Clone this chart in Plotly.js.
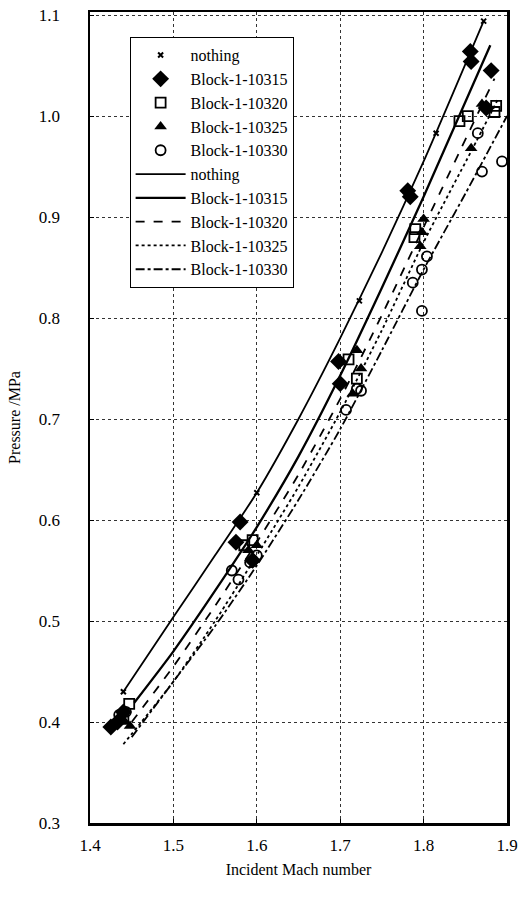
<!DOCTYPE html>
<html>
<head>
<meta charset="utf-8">
<script src="https://cdn.plot.ly/plotly-3.0.1.min.js"></script>
<style>html,body{margin:0;padding:0;background:#fff;}#chart{width:519px;height:898px;}</style>
</head>
<body>
<div id="chart"></div>
<script>
// ---- measured points ----
const nothingX = [1.44, 1.60, 1.723, 1.815, 1.872];
const nothingY = [0.43, 0.627, 0.817, 0.983, 1.094];

const b10315X = [1.425, 1.433, 1.44, 1.58, 1.575, 1.595, 1.698, 1.70, 1.781, 1.784, 1.856, 1.857, 1.881, 1.875];
const b10315Y = [0.395, 0.40, 0.41, 0.598, 0.578, 0.56, 0.757, 0.735, 0.926, 0.92, 1.064, 1.054, 1.045, 1.008];

const b10320X = [1.447, 1.44, 1.585, 1.595, 1.71, 1.72, 1.79, 1.789, 1.843, 1.853, 1.885, 1.887];
const b10320Y = [0.418, 0.405, 0.575, 0.58, 0.759, 0.74, 0.888, 0.88, 0.995, 1.0, 1.004, 1.01];

const b10325X = [1.448, 1.442, 1.59, 1.60, 1.72, 1.725, 1.715, 1.80, 1.798, 1.796, 1.857, 1.87];
const b10325Y = [0.396, 0.40, 0.57, 0.575, 0.768, 0.75, 0.725, 0.898, 0.885, 0.871, 0.968, 1.012];

const b10330X = [1.435, 1.443, 1.578, 1.57, 1.60, 1.592, 1.707, 1.72, 1.725, 1.787, 1.798, 1.804, 1.798, 1.865, 1.87, 1.894];
const b10330Y = [0.407, 0.41, 0.541, 0.55, 0.565, 0.558, 0.709, 0.73, 0.728, 0.835, 0.848, 0.861, 0.807, 0.983, 0.945, 0.955];

// ---- fitted curves ----
const fitNothingX = [1.44, 1.50, 1.55, 1.60, 1.65, 1.70, 1.75, 1.80, 1.872];
const fitNothingY = [0.43, 0.504, 0.565, 0.627, 0.70, 0.78, 0.865, 0.955, 1.094];

const fit10315X = [1.453, 1.50, 1.55, 1.60, 1.65, 1.70, 1.75, 1.80, 1.88];
const fit10315Y = [0.419, 0.47, 0.53, 0.593, 0.663, 0.743, 0.83, 0.92, 1.07];

const fit10320X = [1.45, 1.50, 1.55, 1.60, 1.65, 1.70, 1.75, 1.80, 1.885];
const fit10320Y = [0.40, 0.455, 0.515, 0.578, 0.645, 0.72, 0.803, 0.89, 1.037];

const fit10325X = [1.44, 1.50, 1.55, 1.60, 1.65, 1.70, 1.75, 1.80, 1.857, 1.89];
const fit10325Y = [0.378, 0.44, 0.50, 0.565, 0.633, 0.707, 0.788, 0.875, 0.965, 1.018];

const fit10330X = [1.45, 1.50, 1.55, 1.60, 1.65, 1.70, 1.75, 1.80, 1.85, 1.90];
const fit10330Y = [0.385, 0.44, 0.495, 0.555, 0.62, 0.69, 0.768, 0.848, 0.923, 1.0];

const names = ['nothing', 'Block-1-10315', 'Block-1-10320', 'Block-1-10325', 'Block-1-10330'];
const xTicks = [1.4, 1.5, 1.6, 1.7, 1.8, 1.9];
const yTicks = [0.3, 0.4, 0.5, 0.6, 0.7, 0.8, 0.9, 1.0, 1.1];

const mk = (x, y, name, symbol, size, lw) => ({
  x, y, name, type: 'scatter', mode: 'markers',
  marker: {symbol, size, color: 'black', line: {color: 'black', width: lw}}
});
const ln = (x, y, name, dash, w) => ({
  x, y, name, type: 'scatter', mode: 'lines',
  line: {color: 'black', width: w, dash, shape: 'spline', smoothing: 0.6}
});

const traces = [
  mk(nothingX, nothingY, names[0], 'x-thin', 5, 2),
  mk(b10315X, b10315Y, names[1], 'diamond', 13, 0),
  mk(b10320X, b10320Y, names[2], 'square-open', 10, 1.8),
  mk(b10325X, b10325Y, names[3], 'triangle-up', 11, 0),
  mk(b10330X, b10330Y, names[4], 'circle-open', 10, 1.8),
  ln(fitNothingX, fitNothingY, names[0], 'solid', 1.8),
  ln(fit10315X, fit10315Y, names[1], 'solid', 2.3),
  ln(fit10320X, fit10320Y, names[2], 'dash', 1.8),
  ln(fit10325X, fit10325Y, names[3], 'dot', 1.8),
  ln(fit10330X, fit10330Y, names[4], 'dashdot', 1.8)
];

const font = {family: 'Liberation Serif, Times New Roman, serif', color: 'black'};

const layout = {
  width: 519, height: 898,
  margin: {l: 90, r: 12, t: 12, b: 75},
  paper_bgcolor: 'white', plot_bgcolor: 'white',
  font: Object.assign({size: 16}, font),
  showlegend: true,
  legend: {
    x: 0.095, y: 0.969, xanchor: 'left', yanchor: 'top',
    bgcolor: 'white', bordercolor: 'black', borderwidth: 1,
    font: Object.assign({size: 16}, font),
    tracegroupgap: 0, itemwidth: 50
  },
  xaxis: {
    range: [1.4, 1.9], tickvals: xTicks, ticktext: xTicks.map(v => v.toFixed(1)),
    showline: true, linecolor: 'black', linewidth: 2.5, mirror: true,
    ticks: 'inside', ticklen: 4, tickcolor: 'black',
    showgrid: true, gridcolor: '#333', griddash: 'dot', gridwidth: 1,
    zeroline: false, ticklabeloverflow: 'allow', ticklabelstandoff: 5,
    tickfont: Object.assign({size: 17}, font),
    title: {text: 'Incident Mach number', font: Object.assign({size: 16}, font), standoff: 10}
  },
  yaxis: {
    range: [0.3, 1.103], tickvals: yTicks, ticktext: yTicks.map(v => v.toFixed(1)),
    showline: true, linecolor: 'black', linewidth: 2.5, mirror: true,
    ticks: 'inside', ticklen: 4, tickcolor: 'black',
    showgrid: true, gridcolor: '#333', griddash: 'dot', gridwidth: 1,
    zeroline: false, ticklabelstandoff: 24,
    tickfont: Object.assign({size: 17}, font),
    title: {text: 'Pressure /MPa', font: Object.assign({size: 16}, font), standoff: 14}
  }
};

Plotly.newPlot('chart', traces, layout, {displayModeBar: false, staticPlot: true});
</script>
</body>
</html>
